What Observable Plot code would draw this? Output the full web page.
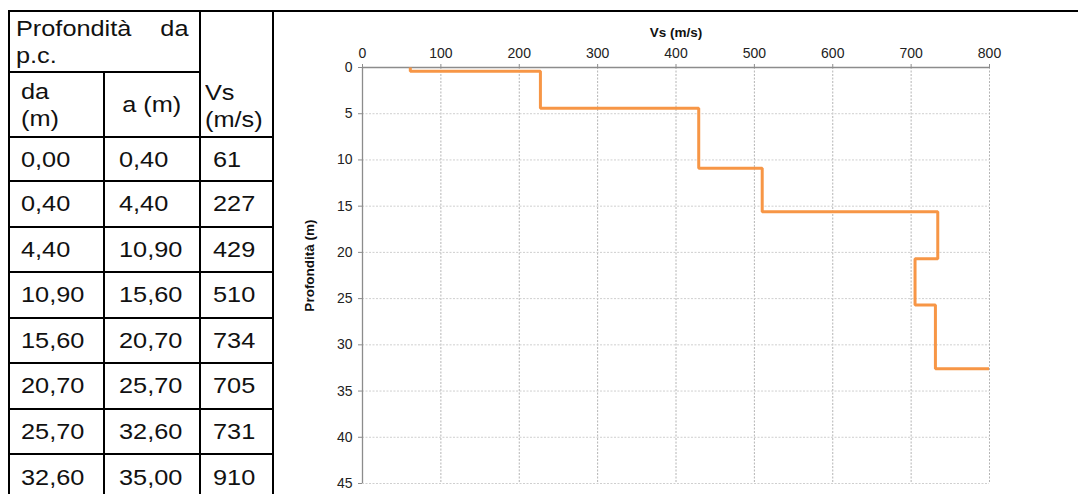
<!DOCTYPE html>
<html>
<head>
<meta charset="utf-8">
<script src="https://cdn.jsdelivr.net/npm/d3@7"></script>
<script src="https://cdn.jsdelivr.net/npm/@observablehq/plot@0.6"></script>
<style>
  html, body { margin: 0; padding: 0; background: #fff; }
  body { position: relative; width: 1078px; height: 494px; overflow: hidden;
         font-family: "Liberation Sans", Arial, Helvetica, sans-serif; color: #111; }
  #tbl { position: absolute; left: 8px; top: 10px; border-collapse: collapse; table-layout: fixed; width: 266px; }
  #tbl td { border: 2px solid #000; font-size: 22px; line-height: 27px; white-space: nowrap;
            overflow: hidden; vertical-align: middle; padding: 0; }
  .s { display: inline-block; transform: scaleX(1.15); transform-origin: left center; }
  .sr { transform-origin: right center; }
  .hd { vertical-align: top !important; padding: 3px 11px 0 6px !important; }
  .hd .ln { display: flex; justify-content: space-between; }
  .vs { vertical-align: bottom !important; padding: 0 0 3px 4px !important; }
  .c1 { padding-left: 11px !important; }
  .c2 { padding-left: 14px !important; }
  .c3 { padding-left: 12px !important; }
  .ctr { text-align: center; }
  #frame { position: absolute; left: 273px; top: 10px; width: 820px; height: 500px; border-top: 2px solid #000; }
  #chart { position: absolute; left: 274px; top: 12px; }
</style>
</head>
<body>
<div id="frame"></div>
<table id="tbl">
  <colgroup><col style="width:95px"><col style="width:96px"><col style="width:73px"></colgroup>
  <tbody id="rows">
    <tr style="height:61px">
      <td colspan="2" class="hd">
        <div class="ln"><span class="s">Profondità</span><span class="s sr">da</span></div>
        <div class="ln"><span class="s">p.c.</span></div>
      </td>
      <td rowspan="2" class="vs"><div><span class="s">Vs</span></div><div><span class="s">(m/s)</span></div></td>
    </tr>
    <tr style="height:65px">
      <td class="c1"><div><span class="s">da</span></div><div><span class="s">(m)</span></div></td>
      <td class="ctr"><span class="s" style="transform-origin:center">a (m)</span></td>
    </tr>
  </tbody>
</table>
<div id="chart"></div>
<script>
// Shear-wave velocity profile: layer tops, layer bottoms (m) and Vs (m/s)
const depthFrom = [0.0, 0.4, 4.4, 10.9, 15.6, 20.7, 25.7, 32.6];
const depthTo   = [0.4, 4.4, 10.9, 15.6, 20.7, 25.7, 32.6, 35.0];
const vs        = [61, 227, 429, 510, 734, 705, 731, 910];

// Axis ticks and titles
const vsTicks    = [0, 100, 200, 300, 400, 500, 600, 700, 800];
const depthTicks = [0, 5, 10, 15, 20, 25, 30, 35, 40, 45];
const xTitle = "Vs (m/s)";
const yTitle = "Profondità (m)";

// Table rows
const fmt = (v) => v.toFixed(2).replace(".", ",");
const rowHeights = [44, 45.5, 45.5, 45.5, 45.5, 45.5, 45.5, 46];
const tbody = document.getElementById("rows");
vs.forEach((v, i) => {
  const tr = document.createElement("tr");
  tr.style.height = rowHeights[i] + "px";
  [[fmt(depthFrom[i]), "c1"], [fmt(depthTo[i]), "c2"], [String(v), "c3"]].forEach(([t, c]) => {
    const td = document.createElement("td");
    td.className = c;
    const sp = document.createElement("span");
    sp.className = "s";
    sp.textContent = t;
    td.appendChild(sp);
    tr.appendChild(td);
  });
  tbody.appendChild(tr);
});

// Step profile: each layer is a vertical segment at its Vs, joined by horizontal steps
const profile = vs.flatMap((v, i) => [
  {vs: v, depth: depthFrom[i]},
  {vs: v, depth: depthTo[i]}
]);

const chart = Plot.plot({
  width: 804,
  height: 482,
  marginTop: 55,
  marginBottom: 11,
  marginLeft: 88,
  marginRight: 89,
  style: {fontFamily: "'Liberation Sans', Arial, sans-serif", fontSize: "14px", color: "#222", background: "transparent"},
  x: {domain: [0, 800]},
  y: {domain: [0, 45], reverse: true},
  marks: [
    Plot.gridX(vsTicks, {stroke: "#b4b4b4", strokeOpacity: 1, strokeDasharray: "2,1.5"}),
    Plot.gridY(depthTicks, {stroke: "#cfcfcf", strokeOpacity: 1, strokeDasharray: "2,1.5"}),
    Plot.ruleX([0], {stroke: "#8c8c8c", strokeWidth: 1.3}),
    Plot.ruleY([0], {stroke: "#8c8c8c", strokeWidth: 1.3}),
    Plot.axisX(vsTicks, {anchor: "top", tickSize: 4, tickPadding: 6, stroke: "#8c8c8c", fill: "#222", label: null}),
    Plot.axisY(depthTicks, {anchor: "left", tickSize: 4, tickPadding: 6, stroke: "#8c8c8c", fill: "#222", label: null}),
    Plot.text([xTitle], {text: (d) => d, frameAnchor: "top", dy: -35, textAnchor: "middle", lineAnchor: "middle",
      fontWeight: "bold", fontSize: 13.5, fill: "#111"}),
    Plot.text([yTitle], {text: (d) => d, frameAnchor: "left", dx: -53, dy: -10, rotate: -90,
      textAnchor: "middle", lineAnchor: "middle", fontWeight: "bold", fontSize: 13.5, fill: "#111"}),
    Plot.line(profile, {x: "vs", y: "depth", stroke: "#f79646", strokeWidth: 3,
      strokeLinejoin: "miter", strokeLinecap: "butt", clip: true})
  ]
});
document.getElementById("chart").appendChild(chart);
</script>
</body>
</html>
